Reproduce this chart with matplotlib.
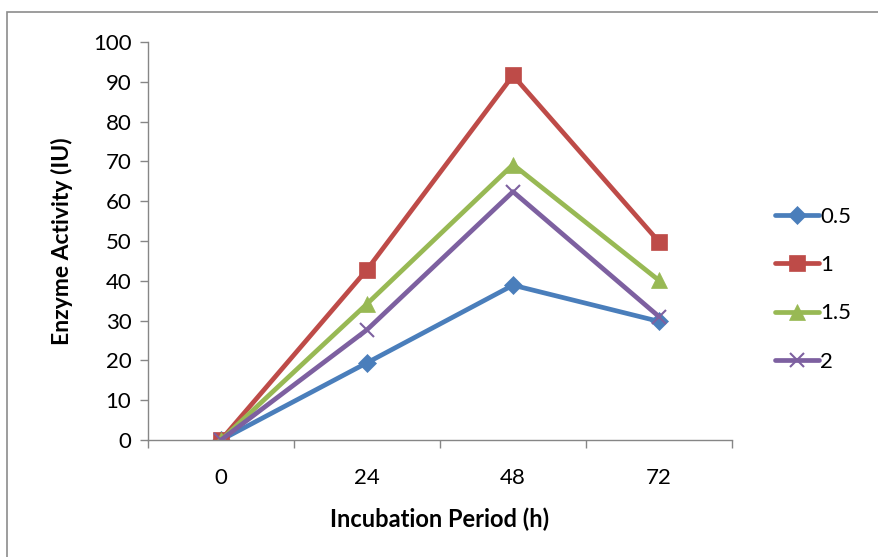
import matplotlib
matplotlib.use("Agg")
import matplotlib.pyplot as plt
from matplotlib.patches import Rectangle

categories = ["0", "24", "48", "72"]
series_names = ["0.5", "1", "1.5", "2"]
s05 = [0, 19.4, 38.9, 29.8]
s1 = [0, 42.8, 91.6, 49.8]
s15 = [0, 34.2, 69.2, 40.1]
s2 = [0, 27.7, 62.4, 31.0]
values = [s05, s1, s15, s2]

colors = ["#4a7ebb", "#be4b48", "#98b954", "#7d60a0"]
markers = ["D", "s", "^", "x"]
msizes = [9, 11, 11, 10]

plt.rcParams['font.family'] = ['Lato', 'DejaVu Sans']
fig = plt.figure(figsize=(8.79, 5.57), dpi=100)
fig.patches.append(Rectangle((7/879, -0.1), 1.0, 1 - 12/557 + 0.1, transform=fig.transFigure,
                             fill=False, edgecolor="#8c8c8c", linewidth=1.2))
ax = fig.add_axes([148/879, (557-440)/557, (732-148)/879, (440-42)/557])
x = list(range(len(categories)))
for name, vals, c, m, ms in zip(series_names, values, colors, markers, msizes):
    ax.plot(x, vals, color=c, linewidth=3.4, marker=m, markersize=ms,
            markeredgewidth=1.5 if m == "x" else 0.5, markeredgecolor=c, label=name,
            solid_capstyle="round")

ax.set_xlim(-0.5, 3.5)
ax.set_ylim(0, 100)
ax.set_yticks(range(0, 101, 10))
ax.set_xticks([i - 0.5 for i in range(5)], minor=False)
ax.set_xticklabels([])
ax.set_xticks(x, minor=True)
ax.set_xticklabels(categories, minor=True)
ax.tick_params(axis="x", which="major", length=6, color="#868686", width=1)
ax.tick_params(axis="x", which="minor", length=0, pad=20, labelsize=16)
ax.tick_params(axis="y", length=6, color="#868686", width=1, labelsize=16, pad=6)
for s in ["top", "right"]:
    ax.spines[s].set_visible(False)
for s in ["left", "bottom"]:
    ax.spines[s].set_color("#868686")
    ax.spines[s].set_linewidth(1)
ax.set_xlabel("Incubation Period (h)", fontsize=17, fontweight="bold", labelpad=14)
ax.set_ylabel("Enzyme Activity (IU)", fontsize=16.5, fontweight="bold", labelpad=14)

ax.legend(loc="upper left", bbox_to_anchor=(766/879, (557-198)/557), bbox_transform=fig.transFigure,
          frameon=False, fontsize=16, handlelength=2.0, handletextpad=0.05,
          labelspacing=1.27, borderaxespad=0)

fig.savefig("out.png", dpi=100)
